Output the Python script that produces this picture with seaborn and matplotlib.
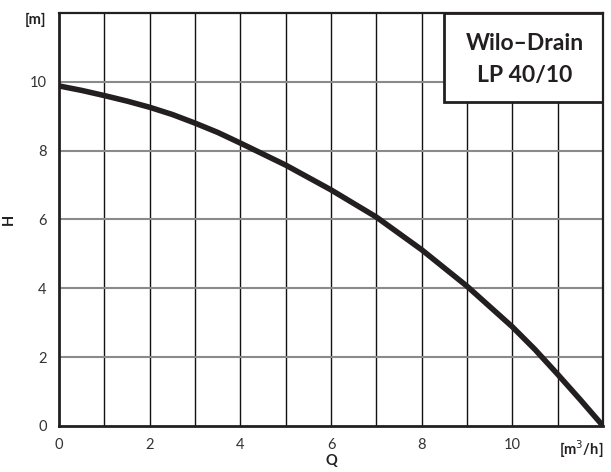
import matplotlib
matplotlib.use("Agg")
import matplotlib.pyplot as plt
import seaborn as sns
import pandas as pd
from matplotlib.patches import Rectangle

# pump curve
flow = [0, 0.5, 1, 1.5, 2, 2.5, 3, 3.5, 4, 5, 6, 7, 8, 9, 10, 10.5, 11, 11.5, 12]
head = [9.88, 9.75, 9.6, 9.44, 9.26, 9.05, 8.8, 8.53, 8.22, 7.58, 6.86, 6.07,
        5.12, 4.06, 2.88, 2.22, 1.5, 0.76, 0.0]

x_ticks = [0, 2, 4, 6, 8, 10, 12]
x_labels = ["0", "2", "4", "6", "8", "10", "[m$^3$/h]"]
y_ticks = [0, 2, 4, 6, 8, 10, 12]
y_labels = ["0", "2", "4", "6", "8", "10", "[m]"]

title_lines = ["Wilo\u2013Drain", "LP 40/10"]

df = pd.DataFrame({"Q": flow, "H": head})

sns.set_theme(style="white")
plt.rcParams["font.family"] = ["Lato", "DejaVu Sans"]

fig = plt.figure(figsize=(6.11, 4.72), dpi=100)
ax = fig.add_axes([0.0966, 0.0975, 0.8904, 0.875])

# grid: thin black verticals, grey horizontals
for xv in range(1, 12):
    ax.axvline(xv, color="#111111", lw=1.0, zorder=1)
for yv in [2, 4, 6, 8, 10]:
    ax.axhline(yv, color="#8a8a8a", lw=1.5, zorder=1)

sns.lineplot(data=df, x="Q", y="H", ax=ax, color="#231f20", lw=4.0,
             solid_capstyle="round", zorder=3)

ax.set_xlim(0, 12)
ax.set_ylim(0, 12)
ax.set_xticks(x_ticks)
ax.set_xticklabels(x_labels)
ax.set_yticks(y_ticks)
ax.set_yticklabels(y_labels)
ax.tick_params(axis="both", length=0, labelsize=10.5, colors="#333333")
ax.tick_params(axis="x", pad=9)
ax.tick_params(axis="y", pad=9)
xl = ax.get_xticklabels()
xl[-1].set_ha("right")
xl[-1].set_fontweight("bold")
xl[-1].set_color("#231f20")
yl = ax.get_yticklabels()
yl[-1].set_fontweight("bold")
yl[-1].set_va("top")
yl[-1].set_color("#231f20")

ax.set_xlabel("Q", fontweight="bold", fontsize=10.5, color="#222222")
ax.set_ylabel("H", fontweight="bold", fontsize=10.5, color="#222222")
ax.xaxis.set_label_coords(0.5, -0.068)
ax.yaxis.set_label_coords(-0.08, 0.5)

for side in ["left", "bottom"]:
    ax.spines[side].set_linewidth(2.0)
for side in ["top", "right"]:
    ax.spines[side].set_linewidth(1.6)
for sp in ax.spines.values():
    sp.set_color("#231f20")
    sp.set_zorder(5)

# name box in the upper right corner
ax.add_patch(Rectangle((8.5, 9.4), 3.5, 2.6, facecolor="white",
                       edgecolor="#231f20", lw=2.0, zorder=4))
ax.text(10.27, 11.1, title_lines[0], ha="center", va="center",
        fontsize=16.5, fontweight="bold", color="#231f20", zorder=6)
ax.text(10.27, 10.17, title_lines[1], ha="center", va="center",
        fontsize=16.5, fontweight="bold", color="#231f20", zorder=6)

fig.savefig("out.png", dpi=100)
